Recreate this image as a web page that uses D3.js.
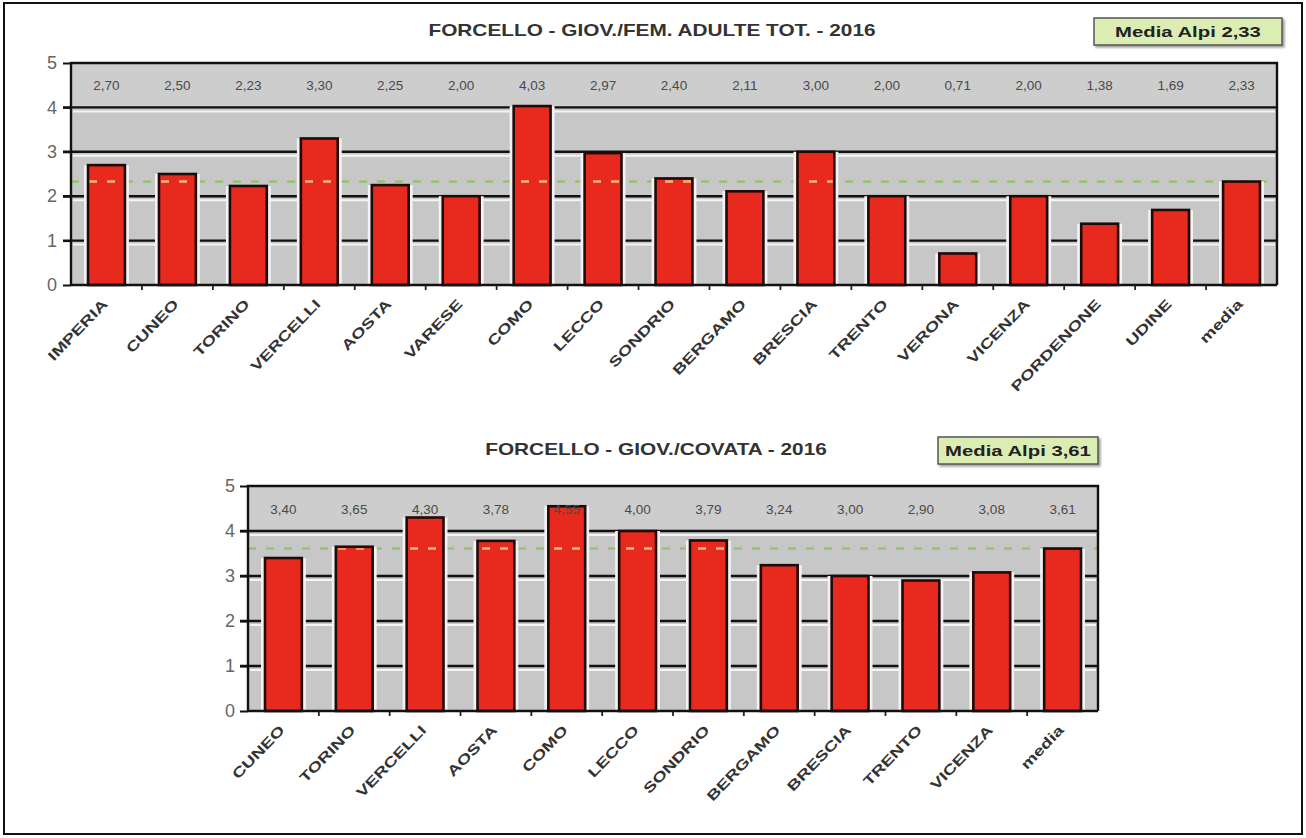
<!DOCTYPE html>
<html>
<head>
<meta charset="utf-8">
<script src="https://cdn.jsdelivr.net/npm/d3@7"></script>
<style>
  body { margin: 0; background: #fff; }
  svg { display: block; font-family: "Liberation Sans", Arial, sans-serif; }
</style>
</head>
<body>
<div id="chart"></div>
<script>
const width = 1306;
const height = 838;

// top chart: giovani / femmine adulte
const provinces1 = ["IMPERIA", "CUNEO", "TORINO", "VERCELLI", "AOSTA", "VARESE", "COMO", "LECCO",
  "SONDRIO", "BERGAMO", "BRESCIA", "TRENTO", "VERONA", "VICENZA", "PORDENONE", "UDINE", "media"];
const values1 = [2.70, 2.50, 2.23, 3.30, 2.25, 2.00, 4.03, 2.97, 2.40, 2.11, 3.00, 2.00, 0.71, 2.00, 1.38, 1.69, 2.33];
const mean1 = 2.33;

// bottom chart: giovani / covata
const provinces2 = ["CUNEO", "TORINO", "VERCELLI", "AOSTA", "COMO", "LECCO", "SONDRIO", "BERGAMO",
  "BRESCIA", "TRENTO", "VICENZA", "media"];
const values2 = [3.40, 3.65, 4.30, 3.78, 4.55, 4.00, 3.79, 3.24, 3.00, 2.90, 3.08, 3.61];
const mean2 = 3.61;

const yTicks = [0, 1, 2, 3, 4, 5];

const comma = (v) => d3.format(".2f")(v).replace(".", ",");

const svg = d3.select("#chart").append("svg")
  .attr("width", width)
  .attr("height", height);

// page frame
svg.append("rect")
  .attr("x", 4).attr("y", 3)
  .attr("width", width - 8).attr("height", height - 7)
  .attr("fill", "none")
  .attr("stroke", "#111")
  .attr("stroke-width", 2);

const defs = svg.append("defs");
const shadow = defs.append("filter").attr("id", "shadow").attr("x", "-10%").attr("y", "-20%")
  .attr("width", "130%").attr("height", "160%");
shadow.append("feDropShadow").attr("dx", 2).attr("dy", 2).attr("stdDeviation", 1.2)
  .attr("flood-color", "#777").attr("flood-opacity", 0.7);

function drawChart(cfg) {
  const g = svg.append("g");
  const x = d3.scaleBand()
    .domain(cfg.cats)
    .range([cfg.left, cfg.right])
    .paddingInner(0.48)
    .paddingOuter(0.24);
  const y = d3.scaleLinear().domain([0, 5]).range([cfg.bottom, cfg.top]);

  // title (the original lettering is wide, so stretch it)
  g.append("text")
    .attr("transform", `translate(${cfg.titleX},${cfg.titleY}) scale(1.3,1)`)
    .attr("text-anchor", "middle")
    .attr("font-size", 16).attr("font-weight", "bold")
    .attr("fill", "#333")
    .text(cfg.title);

  // media box
  g.append("rect")
    .attr("x", cfg.box[0]).attr("y", cfg.box[1])
    .attr("width", cfg.box[2]).attr("height", cfg.box[3])
    .attr("fill", "#dcedb4")
    .attr("stroke", "#555").attr("stroke-width", 1.5)
    .attr("filter", "url(#shadow)");
  g.append("text")
    .attr("transform", `translate(${cfg.box[0] + cfg.box[2] / 2},${cfg.box[1] + cfg.box[3] / 2 + 5}) scale(1.45,1)`)
    .attr("text-anchor", "middle")
    .attr("font-size", 14).attr("font-weight", "bold")
    .attr("fill", "#222")
    .text("Media Alpi " + comma(cfg.mean));

  // plot background
  g.append("rect")
    .attr("x", cfg.left).attr("y", y(5))
    .attr("width", cfg.right - cfg.left).attr("height", y(0) - y(5))
    .attr("fill", "#c7c7c7");
  g.append("rect")
    .attr("x", cfg.left).attr("y", y(5))
    .attr("width", cfg.right - cfg.left).attr("height", y(4) - y(5))
    .attr("fill", "#cdcdcd");

  // white highlight under each gridline
  g.append("g").selectAll("line")
    .data(yTicks.filter((d) => d > 0 && d < 5))
    .join("line")
    .attr("x1", cfg.left + 2).attr("x2", cfg.right - 2)
    .attr("y1", (d) => y(d) + 4).attr("y2", (d) => y(d) + 4)
    .attr("stroke", "#f4f4f4").attr("stroke-width", 2);

  // black gridlines
  g.append("g").selectAll("line")
    .data(yTicks.filter((d) => d > 0 && d < 5))
    .join("line")
    .attr("x1", cfg.left - 8).attr("x2", cfg.right)
    .attr("y1", (d) => y(d)).attr("y2", (d) => y(d))
    .attr("stroke", "#111").attr("stroke-width", 2.4);

  // mean dashed line (green on background)
  g.append("line")
    .attr("x1", cfg.left).attr("x2", cfg.right)
    .attr("y1", y(cfg.mean)).attr("y2", y(cfg.mean))
    .attr("stroke", "#92c46f").attr("stroke-width", 2.5)
    .attr("stroke-dasharray", "8,10");

  const data = cfg.cats.map((c, i) => ({ cat: c, value: cfg.values[i] }));

  // white halo around bars
  g.append("g").selectAll("rect")
    .data(data)
    .join("rect")
    .attr("x", (d) => x(d.cat) - 4)
    .attr("y", (d) => y(d.value))
    .attr("width", x.bandwidth() + 8)
    .attr("height", (d) => y(0) - y(d.value))
    .attr("fill", "#f2f2f2");

  // bars
  g.append("g").selectAll("rect")
    .data(data)
    .join("rect")
    .attr("x", (d) => x(d.cat))
    .attr("y", (d) => y(d.value))
    .attr("width", x.bandwidth())
    .attr("height", (d) => y(0) - y(d.value))
    .attr("fill", "#e8291d")
    .attr("stroke", "#1e0a08").attr("stroke-width", 2.6);

  // mean line where it crosses bars (pale orange)
  const clipId = "clip-" + cfg.id;
  defs.append("clipPath").attr("id", clipId)
    .selectAll("rect")
    .data(data)
    .join("rect")
    .attr("x", (d) => x(d.cat) + 1.5)
    .attr("y", (d) => y(d.value) + 1.5)
    .attr("width", x.bandwidth() - 3)
    .attr("height", (d) => Math.max(0, y(0) - y(d.value) - 3));
  g.append("line")
    .attr("x1", cfg.left).attr("x2", cfg.right)
    .attr("y1", y(cfg.mean)).attr("y2", y(cfg.mean))
    .attr("stroke", "#f7b77a").attr("stroke-width", 2.5)
    .attr("stroke-dasharray", "8,10")
    .attr("clip-path", `url(#${clipId})`);

  // value labels in the top band
  g.append("g").selectAll("text")
    .data(data)
    .join("text")
    .attr("x", (d) => x(d.cat) + x.bandwidth() / 2)
    .attr("y", y(4.5) + 5)
    .attr("text-anchor", "middle")
    .attr("font-size", 13.5)
    .attr("fill", "#4a4a4a")
    .text((d) => comma(d.value));

  // plot frame
  g.append("path")
    .attr("d", `M${cfg.left},${y(0)}V${y(5)}H${cfg.right}V${y(0)}`)
    .attr("fill", "none")
    .attr("stroke", "#111").attr("stroke-width", 2.4);

  // y axis
  const yAxis = g.append("g")
    .attr("transform", `translate(${cfg.left},0)`)
    .call(d3.axisLeft(y).tickValues(yTicks).tickFormat(d3.format("d")).tickSize(8).tickPadding(cfg.yPad));
  yAxis.select(".domain").remove();
  yAxis.selectAll("line").attr("stroke", "#111").attr("stroke-width", 2);
  yAxis.selectAll("text")
    .attr("font-family", "\"Liberation Sans\", Arial, sans-serif")
    .attr("font-size", 18).attr("fill", "#666");

  // x axis line and ticks between categories
  g.append("line")
    .attr("x1", cfg.left).attr("x2", cfg.right)
    .attr("y1", y(0)).attr("y2", y(0))
    .attr("stroke", "#111").attr("stroke-width", 2.4);
  g.append("g").selectAll("line")
    .data(cfg.cats.slice(1))
    .join("line")
    .attr("x1", (d) => x(d) - x.step() * x.paddingInner() / 2)
    .attr("x2", (d) => x(d) - x.step() * x.paddingInner() / 2)
    .attr("y1", y(0)).attr("y2", y(0) + 5)
    .attr("stroke", "#222").attr("stroke-width", 1.8);

  // rotated category labels
  g.append("g").selectAll("text")
    .data(cfg.cats)
    .join("text")
    .attr("transform", (d) => `translate(${x(d) + x.bandwidth() / 2 + 2},${y(0) + 20}) rotate(-46) scale(1.35,1)`)
    .attr("text-anchor", "end")
    .attr("font-size", 14).attr("font-weight", "bold")
    .attr("fill", "#333")
    .text((d) => d);
}

drawChart({
  id: "fem",
  cats: provinces1,
  values: values1,
  mean: mean1,
  title: "FORCELLO - GIOV./FEM. ADULTE TOT. - 2016",
  titleX: 652, titleY: 36,
  box: [1094, 18, 188, 27],
  left: 71, right: 1277, top: 63, bottom: 285,
  yPad: 6
});

drawChart({
  id: "cov",
  cats: provinces2,
  values: values2,
  mean: mean2,
  title: "FORCELLO - GIOV./COVATA - 2016",
  titleX: 656, titleY: 455,
  box: [938, 437, 160, 27],
  left: 248, right: 1098, top: 486, bottom: 711,
  yPad: 5
});
</script>
</body>
</html>
